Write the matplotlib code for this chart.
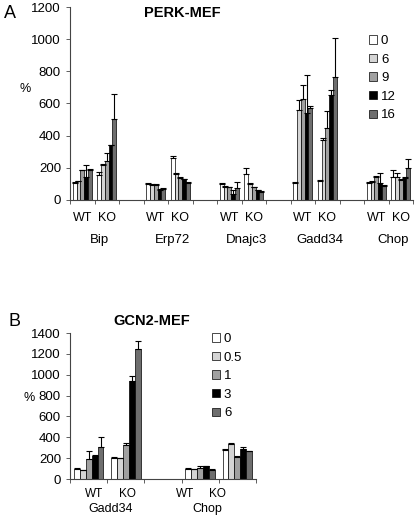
import numpy as np
import matplotlib.pyplot as plt

plt.rcParams['font.family'] = ['Liberation Sans', 'DejaVu Sans']

# ---- Panel A data (PERK-MEF) ----
genes_a = ["Bip", "Erp72", "Dnajc3", "Gadd34", "Chop"]
times_a = ["0", "6", "9", "12", "16"]
# groups: Bip WT, Bip KO, Erp72 WT, Erp72 KO, Dnajc3 WT, Dnajc3 KO, Gadd34 WT, Gadd34 KO, Chop WT, Chop KO
t0_a = [105, 155, 100, 260, 100, 160, 105, 120, 105, 145]
t6_a = [118, 220, 95, 160, 80, 100, 560, 375, 115, 145]
t9_a = [185, 245, 95, 135, 80, 80, 625, 450, 145, 125]
t12_a = [140, 340, 65, 130, 40, 60, 540, 655, 105, 135]
t16_a = [185, 505, 70, 105, 75, 50, 575, 765, 90, 200]
e0_a = [5, 20, 5, 15, 8, 40, 5, 5, 5, 40]
e6_a = [3, 5, 5, 5, 5, 5, 60, 10, 5, 20]
e9_a = [3, 45, 3, 5, 3, 3, 90, 105, 5, 5]
e12_a = [80, 3, 3, 3, 20, 3, 235, 30, 60, 5]
e16_a = [5, 155, 3, 10, 40, 3, 10, 245, 5, 55]

# ---- Panel B data (GCN2-MEF) ----
genes_b = ["Gadd34", "Chop"]
times_b = ["0", "0.5", "1", "3", "6"]
# groups: Gadd34 WT, Gadd34 KO, Chop WT, Chop KO
t0_b = [100, 200, 100, 275]
t05_b = [85, 200, 95, 340]
t1_b = [190, 325, 105, 210]
t3_b = [220, 940, 120, 285]
t6_b = [310, 1250, 90, 265]
e0_b = [5, 10, 5, 15]
e05_b = [5, 5, 3, 5]
e1_b = [80, 20, 15, 15]
e3_b = [10, 45, 5, 20]
e6_b = [95, 75, 3, 5]

colors = ["#ffffff", "#d4d4d4", "#a0a0a0", "#000000", "#6e6e6e"]
genotypes = ["WT", "KO"]


def draw_panel(ax, series, errs, times, slots, nslots, width, ymax, ystep):
    n = len(series)
    slots = np.array(slots, dtype=float)
    for k, (vals, err) in enumerate(zip(series, errs)):
        x = slots + 0.5 + (k - (n - 1) / 2) * width
        ax.bar(x, vals, width=width, color=colors[k], edgecolor="black",
               linewidth=0.5, label=times[k])
        ax.errorbar(x, vals, yerr=[np.zeros(len(vals)), err], fmt="none",
                    ecolor="black", elinewidth=0.8, capsize=2, capthick=0.8)
    ax.set_xlim(0, nslots)
    ax.set_ylim(0, ymax)
    ax.set_yticks(np.arange(0, ymax + 1, ystep))
    ax.set_xticks(np.arange(0, nslots + 1))
    ax.set_xticklabels([])
    for s in ["top", "right"]:
        ax.spines[s].set_visible(False)
    ax.spines["left"].set_color("#444444")
    ax.spines["bottom"].set_color("#444444")
    ax.tick_params(axis="both", direction="out", length=3, width=0.6,
                   color="#444444", labelsize=9.5)


fig = plt.figure(figsize=(4.15, 5.19), dpi=100)

# Panel A
axA = fig.add_axes([70 / 415, 1 - 200 / 519, 343 / 415, 193 / 519])
slots_a = [0, 1, 3, 4, 6, 7, 9, 10, 12, 13]
draw_panel(axA, [t0_a, t6_a, t9_a, t12_a, t16_a],
           [e0_a, e6_a, e9_a, e12_a, e16_a], times_a, slots_a, 14, 0.155, 1200, 200)
for i, g in enumerate(genes_a):
    for j, gt in enumerate(genotypes):
        axA.text(3 * i + j + 0.5, -0.06, gt, transform=axA.get_xaxis_transform(),
                 ha="center", va="top", fontsize=9)
    axA.text(3 * i + 1.2, -0.175, g, transform=axA.get_xaxis_transform(),
             ha="center", va="top", fontsize=9.5)
fig.text(182 / 415, 1 - 13 / 519, "PERK-MEF", ha="center", va="center",
         fontsize=10.5, fontweight="bold")
fig.text(4 / 415, 1 - 13 / 519, "A", ha="left", va="center", fontsize=13)
fig.text(25 / 415, 1 - 89 / 519, "%", ha="center", va="center", fontsize=9)
axA.legend(loc="upper left", bbox_to_anchor=(369 / 415, 1 - 35 / 519),
           bbox_transform=fig.transFigure, frameon=False, fontsize=9.5,
           handlelength=0.6, handleheight=0.6, handletextpad=0.3,
           labelspacing=0.5, borderpad=0, borderaxespad=0)

# Panel B
axB = fig.add_axes([70 / 415, 1 - 479 / 519, 186 / 415, 146 / 519])
slots_b = [0, 1, 3, 4]
draw_panel(axB, [t0_b, t05_b, t1_b, t3_b, t6_b],
           [e0_b, e05_b, e1_b, e3_b, e6_b], times_b, slots_b, 5, 0.16, 1400, 200)
# genotype labels sit slightly off the group centres in the original
axB.text(0.65, -0.06, "WT", transform=axB.get_xaxis_transform(),
         ha="center", va="top", fontsize=8.5)
axB.text(1.55, -0.06, "KO", transform=axB.get_xaxis_transform(),
         ha="center", va="top", fontsize=8.5)
axB.text(3.1, -0.06, "WT", transform=axB.get_xaxis_transform(),
         ha="center", va="top", fontsize=8.5)
axB.text(3.95, -0.06, "KO", transform=axB.get_xaxis_transform(),
         ha="center", va="top", fontsize=8.5)
axB.text(1.1, -0.165, genes_b[0], transform=axB.get_xaxis_transform(),
         ha="center", va="top", fontsize=9)
axB.text(3.7, -0.165, genes_b[1], transform=axB.get_xaxis_transform(),
         ha="center", va="top", fontsize=9)
fig.text(152 / 415, 1 - 321 / 519, "GCN2-MEF", ha="center", va="center",
         fontsize=10.5, fontweight="bold")
fig.text(8 / 415, 1 - 321 / 519, "B", ha="left", va="center", fontsize=13)
fig.text(29 / 415, 1 - 398 / 519, "%", ha="center", va="center", fontsize=9)
axB.legend(loc="upper left", bbox_to_anchor=(212 / 415, 1 - 333 / 519),
           bbox_transform=fig.transFigure, frameon=False, fontsize=9.5,
           handlelength=0.6, handleheight=0.6, handletextpad=0.3,
           labelspacing=0.5, borderpad=0, borderaxespad=0)

fig.savefig("out.png", dpi=100)
